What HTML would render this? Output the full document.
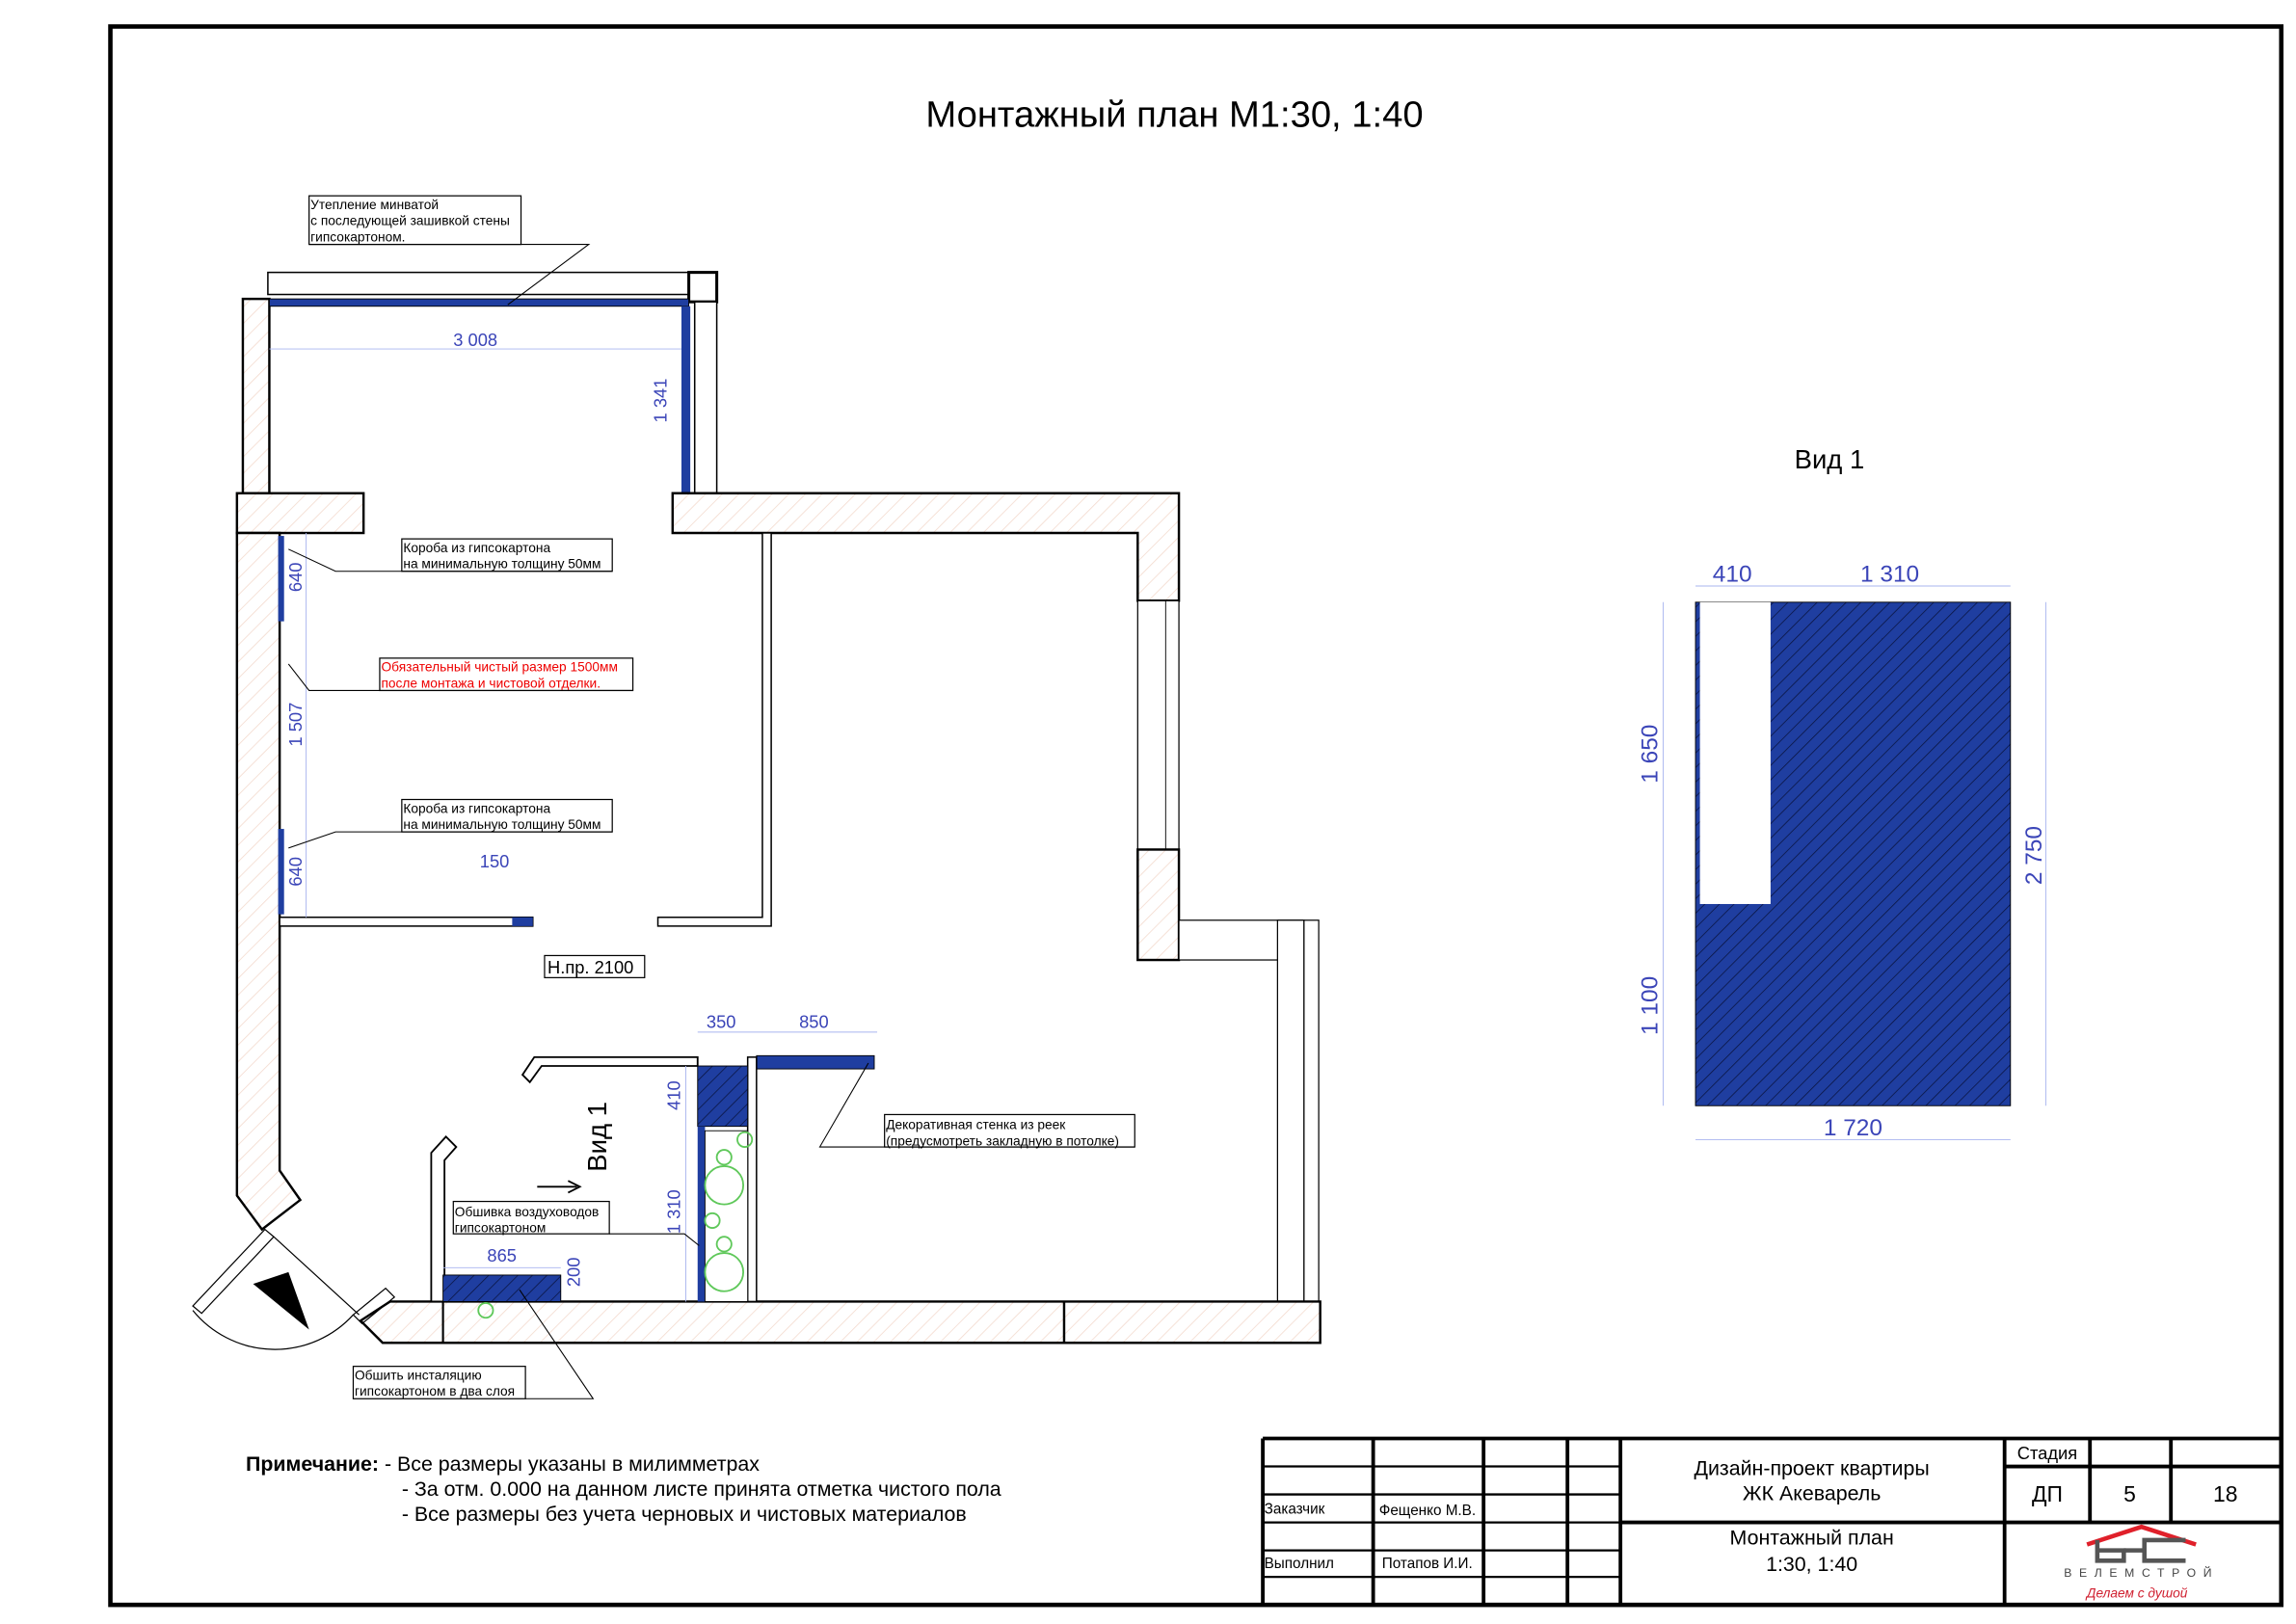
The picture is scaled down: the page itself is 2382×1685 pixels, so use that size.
<!DOCTYPE html>
<html><head><meta charset="utf-8"><style>
html,body{margin:0;padding:0;background:#fff}
svg{display:block}
text{font-family:"Liberation Sans",sans-serif}
.w{fill:url(#wh);stroke:#000;stroke-width:1.6}
.b{fill:url(#bh);stroke:#000;stroke-width:0.6}
.d{fill:#3b45b8;font-size:12px}
.dl{stroke:#a8b4ef;stroke-width:0.6;fill:none}
.n{font-size:9px;fill:#000}
.th{stroke:#000;stroke-width:2.5;fill:none}
</style></head><body>
<svg width="2382" height="1685" viewBox="0 0 1560 1103" preserveAspectRatio="none" xmlns="http://www.w3.org/2000/svg">
<defs>
<pattern id="wh" width="8" height="8" patternUnits="userSpaceOnUse" patternTransform="rotate(45)"><rect width="8" height="8" fill="#fff"/><line x1="0" y1="0" x2="0" y2="8" stroke="#f3d9cc" stroke-width="1"/></pattern>
<pattern id="bh" width="7" height="7" patternUnits="userSpaceOnUse" patternTransform="rotate(45)"><rect width="7" height="7" fill="#1f3ea0"/><line x1="0" y1="0" x2="0" y2="7" stroke="#0a1440" stroke-width="1"/></pattern>
</defs>
<rect x="75" y="18" width="1475" height="1072" fill="none" stroke="#000" stroke-width="3"/>
<text x="798" y="86" font-size="25" text-anchor="middle">Монтажный план М1:30, 1:40</text>

<rect x="182" y="185" width="286" height="15" fill="#fff" stroke="#000" stroke-width="1"/>
<rect x="468" y="185" width="19" height="20" fill="#fff" stroke="#000" stroke-width="2"/>
<rect class="w" x="165" y="203" width="18" height="132"/>
<rect x="183" y="203" width="285" height="5" fill="#1f3ea0" stroke="#000" stroke-width=".6"/>
<rect x="463" y="208" width="6" height="127" fill="#1f3ea0"/>
<rect x="472" y="205" width="15" height="130" fill="#fff" stroke="#000" stroke-width="1"/>
<line class="dl" x1="183" y1="237" x2="463" y2="237"/>
<text class="d" x="323" y="235" text-anchor="middle">3 008</text>
<text class="d" x="453" y="272" transform="rotate(-90 453 272)" text-anchor="middle">1 341</text>
<rect x="210" y="133" width="144" height="33" fill="#fff" stroke="#000" stroke-width=".8"/>
<text class="n" x="211" y="142">Утепление минватой</text>
<text class="n" x="211" y="153">с последующей зашивкой стены</text>
<text class="n" x="211" y="164">гипсокартоном.</text>
<polyline points="210,166 400,166 345,207" fill="none" stroke="#000" stroke-width=".7"/>

<rect class="w" x="161" y="335" width="86" height="27"/>
<polygon class="w" points="457,335 801,335 801,408 773,408 773,362 457,362"/>
<polygon class="w" points="161,362 190,362 190,795 204,815 178,835 161,812"/>
<rect x="773" y="408" width="28" height="169" fill="#fff" stroke="#000" stroke-width=".8"/>
<line x1="792" y1="408" x2="792" y2="577" stroke="#000" stroke-width=".6"/>
<rect class="w" x="773" y="577" width="28" height="75"/>
<rect x="801" y="625" width="84" height="27" fill="#fff" stroke="#000" stroke-width=".8"/>
<rect x="868" y="625" width="18" height="260" fill="#fff" stroke="#000" stroke-width=".8"/>
<rect x="886" y="625" width="10" height="260" fill="#fff" stroke="#000" stroke-width=".8"/>
<polygon class="w" points="265,884 897,884 897,912 260,912 245,897"/>
<line x1="723" y1="884" x2="723" y2="912" stroke="#000" stroke-width="1.6"/>
<line x1="301" y1="884" x2="301" y2="912" stroke="#000" stroke-width="1.4"/>
<rect x="190" y="623" width="172" height="6" fill="#fff" stroke="#000" stroke-width="1"/>
<rect x="348" y="623" width="14" height="6" fill="#1f3ea0"/>
<polygon points="447,623 518,623 518,362 524,362 524,629 447,629" fill="#fff" stroke="#000" stroke-width="1"/>
<rect x="189" y="364" width="4" height="58" fill="#1f3ea0"/>
<rect x="189" y="563" width="4" height="58" fill="#1f3ea0"/>
<text class="d" x="205" y="392" transform="rotate(-90 205 392)" text-anchor="middle">640</text>
<text class="d" x="205" y="492" transform="rotate(-90 205 492)" text-anchor="middle">1 507</text>
<text class="d" x="205" y="592" transform="rotate(-90 205 592)" text-anchor="middle">640</text>
<line class="dl" x1="208" y1="362" x2="208" y2="623"/>
<text class="d" x="336" y="589" text-anchor="middle">150</text>
<rect x="273" y="366" width="143" height="22" fill="#fff" stroke="#000" stroke-width=".8"/>
<text class="n" x="274" y="375">Короба из гипсокартона</text>
<text class="n" x="274" y="386">на минимальную толщину 50мм</text>
<polyline points="416,388 228,388 196,373" fill="none" stroke="#000" stroke-width=".7"/>
<rect x="258" y="447" width="172" height="22" fill="#fff" stroke="#000" stroke-width=".8"/>
<text class="n" x="259" y="456" style="fill:#e00">Обязательный чистый размер 1500мм</text>
<text class="n" x="259" y="467" style="fill:#e00">после монтажа и чистовой отделки.</text>
<polyline points="430,469 210,469 196,451" fill="none" stroke="#000" stroke-width=".7"/>
<rect x="273" y="543" width="143" height="22" fill="#fff" stroke="#000" stroke-width=".8"/>
<text class="n" x="274" y="552">Короба из гипсокартона</text>
<text class="n" x="274" y="563">на минимальную толщину 50мм</text>
<polyline points="416,565 228,565 196,576" fill="none" stroke="#000" stroke-width=".7"/>
<rect x="370" y="649" width="68" height="15" fill="#fff" stroke="#000" stroke-width=".8"/>
<text x="372" y="661" font-size="12">Н.пр. 2100</text>

<text class="d" x="490" y="698" text-anchor="middle">350</text>
<text class="d" x="553" y="698" text-anchor="middle">850</text>
<line class="dl" x1="474" y1="701" x2="596" y2="701"/>
<polygon points="363,718 474,718 474,724 368,724 360,735 355,730" fill="#fff" stroke="#000" stroke-width="1.2"/>
<rect x="514" y="717" width="80" height="9" fill="#1f3ea0" stroke="#000" stroke-width=".6"/>
<rect x="508" y="718" width="6" height="166" fill="#fff" stroke="#000" stroke-width="1"/>
<rect class="b" x="474" y="724" width="34" height="41"/>
<rect x="474" y="765" width="5" height="119" fill="#1f3ea0"/>
<rect x="479" y="768" width="29" height="116" fill="#fff" stroke="#000" stroke-width=".6"/>
<g fill="none" stroke="#5fc85a" stroke-width="1.2">
<circle cx="492" cy="786" r="5"/><circle cx="492" cy="805" r="13"/><circle cx="506" cy="774" r="5"/>
<circle cx="484" cy="829" r="5"/><circle cx="492" cy="845" r="5"/><circle cx="492" cy="864" r="13"/>
<circle cx="330" cy="890" r="5"/><circle cx="1293" cy="443" r="6"/></g>
<text class="d" x="462" y="744" transform="rotate(-90 462 744)" text-anchor="middle">410</text>
<text class="d" x="462" y="823" transform="rotate(-90 462 823)" text-anchor="middle">1 310</text>
<line class="dl" x1="466" y1="724" x2="466" y2="884"/>
<text x="412" y="772" font-size="18" transform="rotate(-90 412 772)" text-anchor="middle">Вид 1</text>
<line x1="365" y1="806" x2="392" y2="806" stroke="#000" stroke-width="1.2"/>
<polyline points="386,802 394,806 386,810" fill="none" stroke="#000" stroke-width="1.2"/>
<polygon points="293,783 303,772 310,779 302,788 302,884 293,884" fill="#fff" stroke="#000" stroke-width="1.2"/>
<rect class="b" x="301" y="866" width="80" height="18"/>
<text class="d" x="341" y="857" text-anchor="middle">865</text>
<line class="dl" x1="301" y1="861" x2="381" y2="861"/>
<text class="d" x="394" y="864" transform="rotate(-90 394 864)" text-anchor="middle">200</text>
<rect x="308" y="816" width="106" height="22" fill="#fff" stroke="#000" stroke-width=".8"/>
<text class="n" x="309" y="826">Обшивка воздуховодов</text>
<text class="n" x="309" y="837">гипсокартоном</text>
<polyline points="414,838 465,838 475,846" fill="none" stroke="#000" stroke-width=".7"/>
<rect x="601" y="757" width="170" height="22" fill="#fff" stroke="#000" stroke-width=".8"/>
<text class="n" x="602" y="767">Декоративная стенка из реек</text>
<text class="n" x="602" y="778">(предусмотреть закладную в потолке)</text>
<polyline points="771,779 557,779 590,722" fill="none" stroke="#000" stroke-width=".7"/>
<rect x="240" y="928" width="117" height="22" fill="#fff" stroke="#000" stroke-width=".8"/>
<text class="n" x="241" y="937">Обшить инсталяцию</text>
<text class="n" x="241" y="948">гипсокартоном в два слоя</text>
<polyline points="357,950 403,950 353,876" fill="none" stroke="#000" stroke-width=".7"/>
<g fill="none" stroke="#000" stroke-width=".8">
<polygon points="180,835 186,840 137,892 131,887"/>
<path d="M131,890 A72,72 0 0 0 240,893"/>
<line x1="186" y1="840" x2="244" y2="893"/>
<polygon points="240,893 262,875 268,881 246,899"/></g>
<polygon points="172,872 196,864 210,903" fill="#000"/>

<text x="1243" y="318" font-size="18" text-anchor="middle">Вид 1</text>
<rect class="b" x="1152" y="409" width="214" height="342" stroke-width="1"/>
<rect x="1155" y="409" width="48" height="205" fill="#fff"/>
<text class="d" x="1177" y="395" style="font-size:16px" text-anchor="middle">410</text>
<text class="d" x="1284" y="395" style="font-size:16px" text-anchor="middle">1 310</text>
<line class="dl" x1="1152" y1="398" x2="1366" y2="398"/>
<text class="d" x="1126" y="512" style="font-size:16px" transform="rotate(-90 1126 512)" text-anchor="middle">1 650</text>
<text class="d" x="1126" y="683" style="font-size:16px" transform="rotate(-90 1126 683)" text-anchor="middle">1 100</text>
<line class="dl" x1="1130" y1="409" x2="1130" y2="751"/>
<text class="d" x="1387" y="581" style="font-size:16px" transform="rotate(-90 1387 581)" text-anchor="middle">2 750</text>
<line class="dl" x1="1390" y1="409" x2="1390" y2="751"/>
<text class="d" x="1259" y="771" style="font-size:16px" text-anchor="middle">1 720</text>
<line class="dl" x1="1152" y1="774" x2="1366" y2="774"/>

<text x="167" y="999" font-size="14"><tspan font-weight="bold">Примечание:</tspan> - Все размеры указаны в милимметрах</text>
<text x="273" y="1016" font-size="14">- За отм. 0.000 на данном листе принята отметка чистого пола</text>
<text x="273" y="1033" font-size="14">-  Все размеры без учета черновых и чистовых материалов</text>

<g class="th">
<line x1="858" y1="977" x2="1550" y2="977"/>
<line x1="858" y1="977" x2="858" y2="1090"/>
<line x1="933" y1="977" x2="933" y2="1090"/>
<line x1="1008" y1="977" x2="1008" y2="1090"/>
<line x1="1065" y1="977" x2="1065" y2="1090"/>
<line x1="1101" y1="977" x2="1101" y2="1090"/>
<line x1="1362" y1="977" x2="1362" y2="1090"/>
<line x1="1420" y1="977" x2="1420" y2="1034"/>
<line x1="1475" y1="977" x2="1475" y2="1034"/>
<line x1="1362" y1="996" x2="1550" y2="996"/>
<line x1="1101" y1="1034" x2="1550" y2="1034"/>
</g>
<g stroke="#000" stroke-width="1.5">
<line x1="858" y1="996" x2="1101" y2="996"/>
<line x1="858" y1="1015" x2="1101" y2="1015"/>
<line x1="858" y1="1034" x2="1101" y2="1034"/>
<line x1="858" y1="1053" x2="1101" y2="1053"/>
<line x1="858" y1="1071" x2="1101" y2="1071"/>
</g>
<text x="859" y="1028" font-size="10">Заказчик</text>
<text x="937" y="1029" font-size="10">Фещенко М.В.</text>
<text x="859" y="1065" font-size="10">Выполнил</text>
<text x="939" y="1065" font-size="10">Потапов И.И.</text>
<text x="1231" y="1002" font-size="14" text-anchor="middle">Дизайн-проект квартиры</text>
<text x="1231" y="1019" font-size="14" text-anchor="middle">ЖК Акеварель</text>
<text x="1231" y="1049" font-size="14" text-anchor="middle">Монтажный план</text>
<text x="1231" y="1067" font-size="14" text-anchor="middle">1:30, 1:40</text>
<text x="1391" y="991" font-size="12" text-anchor="middle">Стадия</text>
<text x="1391" y="1020" font-size="15" text-anchor="middle">ДП</text>
<text x="1447" y="1020" font-size="15" text-anchor="middle">5</text>
<text x="1512" y="1020" font-size="15" text-anchor="middle">18</text>
<polyline points="1418,1049 1455,1037 1492,1049" fill="none" stroke="#e0202a" stroke-width="3"/>
<g fill="none" stroke="#555" stroke-width="3"><path d="M1425,1046 V1060 H1443 V1053 H1425"/><path d="M1443,1053 H1457"/><path d="M1485,1046 H1457 V1060 H1485"/></g>
<text x="1455" y="1071" font-size="8" text-anchor="middle" letter-spacing="5" fill="#444">ВЕЛЕМСТРОЙ</text>
<text x="1452" y="1085" font-size="9" font-style="italic" text-anchor="middle" fill="#d02030">Делаем с душой</text>
</svg>
</body></html>
